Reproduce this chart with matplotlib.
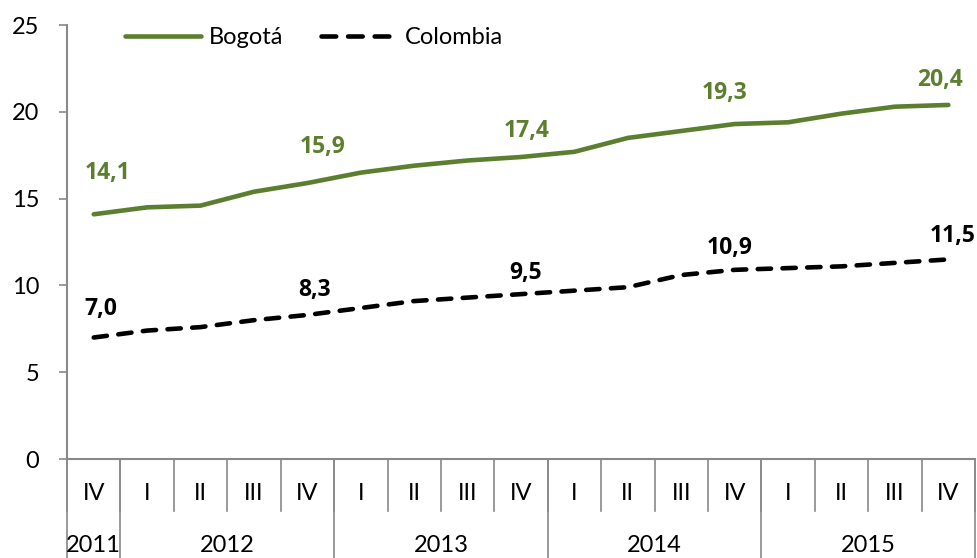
import numpy as np
import matplotlib.pyplot as plt
import matplotlib.transforms as mtransforms
from matplotlib.lines import Line2D

plt.rcParams['font.family'] = ['Lato', 'DejaVu Sans']

# datos
trimestres = ['IV', 'I', 'II', 'III', 'IV', 'I', 'II', 'III', 'IV',
              'I', 'II', 'III', 'IV', 'I', 'II', 'III', 'IV']
anios = ['2011', '2012', '2013', '2014', '2015']
anio_ini = [0, 1, 5, 9, 13]
anio_fin = [0, 4, 8, 12, 16]

bogota = [14.1, 14.5, 14.6, 15.4, 15.9, 16.5, 16.9, 17.2, 17.4,
          17.7, 18.5, 18.9, 19.3, 19.4, 19.9, 20.3, 20.4]
colombia = [7.0, 7.4, 7.6, 8.0, 8.3, 8.7, 9.1, 9.3, 9.5,
            9.7, 9.9, 10.6, 10.9, 11.0, 11.1, 11.3, 11.5]
etiquetas = [0, 4, 8, 12, 16]

# desplazamiento de las etiquetas (pixeles)
desp_bog = [(14, 41), (15, 36), (6, 26), (-10, 31), (-8, 25)]
desp_col = [(7, 29), (7, 25), (5, 21), (-5, 22), (4, 23)]

verde = '#5B7F2F'
gris = '#898989'
fs = 17

fig = plt.figure(figsize=(9.77, 5.58), dpi=100)
ax = fig.add_axes([0.0686, 0.1774, 0.9294, 0.7776])

x = np.arange(len(bogota))
ax.plot(x, bogota, color=verde, lw=3.3, solid_capstyle='round')
ax.plot(x, colombia, color='black', lw=3.3, dashes=(2.9, 2.5),
        dash_capstyle='round')

for k, i in enumerate(etiquetas):
    ax.annotate(f"{bogota[i]:.1f}".replace('.', ','), (x[i], bogota[i]),
                xytext=desp_bog[k], textcoords='offset pixels',
                ha='center', va='center', fontsize=16.5, fontweight='bold',
                family='Open Sans', color=verde)
    ax.annotate(f"{colombia[i]:.1f}".replace('.', ','), (x[i], colombia[i]),
                xytext=desp_col[k], textcoords='offset pixels',
                ha='center', va='center', fontsize=16.5, fontweight='bold',
                family='Open Sans', color='black')

ax.set_xlim(-0.5, len(bogota) - 0.5)
ax.set_ylim(0, 25)
ax.set_yticks([0, 5, 10, 15, 20, 25])
ax.tick_params(axis='y', labelsize=fs, color=gris, length=6, width=1.2, pad=14)
ax.set_xticks([])

for s in ['top', 'right']:
    ax.spines[s].set_visible(False)
for s in ['left', 'bottom']:
    ax.spines[s].set_color(gris)
    ax.spines[s].set_linewidth(1.5)

# eje x de dos niveles
trans = mtransforms.blended_transform_factory(ax.transData, ax.transAxes)
for i, t in enumerate(trimestres):
    ax.text(i, -0.08, t, transform=trans, ha='center', va='center', fontsize=fs)
for i in range(len(trimestres) + 1):
    ax.plot([i - 0.5, i - 0.5], [0, -0.12], transform=trans, color=gris,
            lw=1.2, clip_on=False)
for a, i0, i1 in zip(anios, anio_ini, anio_fin):
    ax.text((i0 + i1) / 2, -0.2, a, transform=trans, ha='center', va='center',
            fontsize=fs)
    ax.plot([i0 - 0.5, i0 - 0.5], [0, -0.26], transform=trans, color=gris,
            lw=1.2, clip_on=False)
ax.plot([16.5, 16.5], [0, -0.26], transform=trans, color=gris, lw=1.2, clip_on=False)

# leyenda
h1 = Line2D([], [], color=verde, lw=3.3, solid_capstyle='round')
h2 = Line2D([], [], color='black', lw=3.3, dashes=(3.2, 2.6),
            dash_capstyle='round')
ax.legend([h1, h2], ['Bogotá', 'Colombia'], loc='upper left',
          bbox_to_anchor=(0.064, 0.995), ncol=2, frameon=False,
          borderpad=0, borderaxespad=0, fontsize=fs, handlelength=3.2,
          handletextpad=0.35, columnspacing=1.6)

plt.savefig('out.png', dpi=100)
